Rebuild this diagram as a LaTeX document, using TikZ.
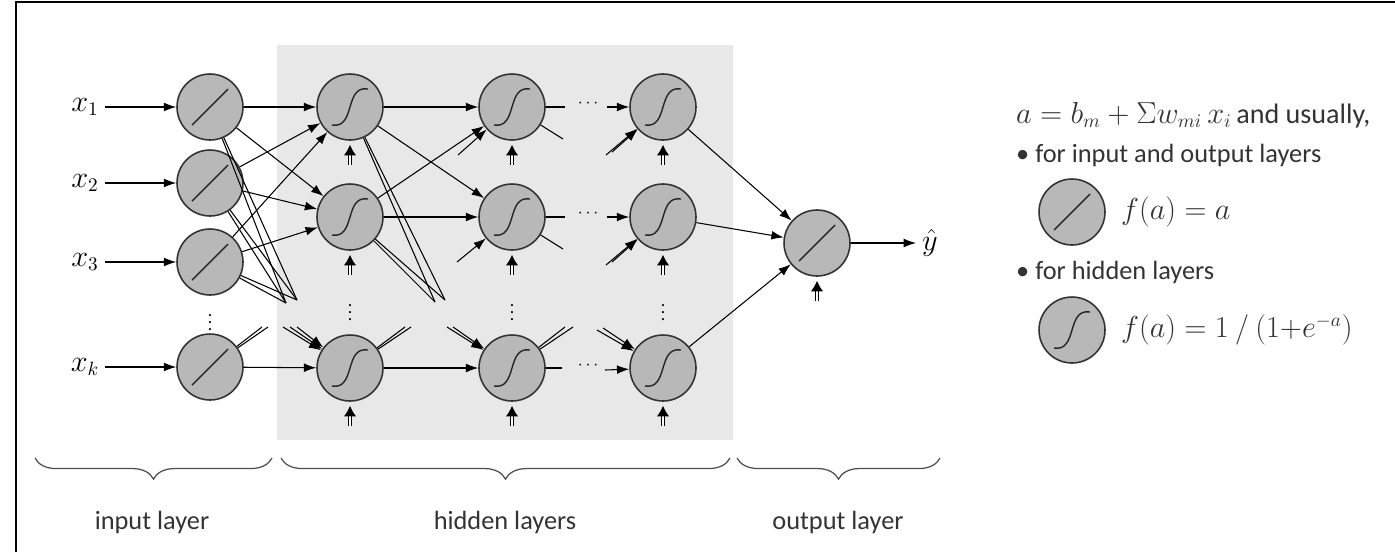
\documentclass[tikz,border=0pt]{standalone}
\usepackage{fontspec}
\setmainfont{Carlito}
\usetikzlibrary{arrows.meta,decorations.pathreplacing}
\begin{document}
\begin{tikzpicture}[x=0.02cm,y=-0.02cm,
  neuron/.style={circle,draw=black!80,fill=black!28,line width=0.9pt,minimum size=1.32cm,inner sep=0pt},
  edge/.style={line width=0.6pt,-{Latex[length=7pt,width=5pt]}},
  stub/.style={line width=0.6pt},
  bias/.style={line width=0.5pt,double,double distance=1.6pt},
  biastip/.style={-{Latex[length=6pt,width=7pt]},line width=0.6pt},
  glyph/.style={line width=0.8pt,black!85},
  brace/.style={decorate,decoration={brace,mirror,amplitude=12pt},line width=0.7pt,black!70},
  lbl/.style={font=\fontsize{15}{17}\selectfont,text=black!80}]
\useasboundingbox (0,0) rectangle (1395,552);
\draw[line width=1pt] (16,552) -- (16,2) -- (1395,2);
\fill[black!9] (277,45) rectangle (733,440);
\newcommand{\lin}[1]{\draw[glyph] ([shift={(-18,18)}]#1.center) -- ([shift={(18,-18)}]#1.center);}
\newcommand{\sig}[1]{\draw[glyph] ([shift={(-18,18)}]#1.center) .. controls ([shift={(6,22)}]#1.center) and ([shift={(-6,-22)}]#1.center) .. ([shift={(18,-18)}]#1.center);}
\newcommand{\biasarrow}[2]{\draw[bias] (#1) -- ([shift={(0,10)}]#2.south); \draw[biastip] ([shift={(0,12)}]#2.south) -- ([shift={(0,4)}]#2.south);}
% input layer
\foreach \n/\y in {1/107,2/183,3/262,k/367}{
  \node[neuron] (I\n) at (210,\y) {};
  \node[font=\fontsize{16}{18}\selectfont] (X\n) at (85,\y) {$x_{\n}$};
  \draw[edge] (X\n) -- (I\n);
  \lin{I\n}
}
\node (Id) at (210,317) {$\vdots$};
% hidden layers
\foreach \c/\x in {1/350,2/512,3/663}{
  \foreach \r/\y in {1/107,2/217,k/368}{
    \node[neuron] (H\c\r) at (\x,\y) {};
    \sig{H\c\r}
    \coordinate (B\c\r) at (\x,\y+58);
    \biasarrow{B\c\r}{H\c\r}
  }
  \node (Hd\c) at (\x,307) {$\vdots$};
}
% output
\node[neuron] (O) at (817,243) {};
\lin{O}
\coordinate (BO) at (817,301);
\biasarrow{BO}{O}
\node[font=\fontsize{16}{18}\selectfont] (Y) at (930,243) {$\hat{y}$};
\draw[edge] (O) -- (Y);
% input -> hidden1
\foreach \i in {1,2,3}{\foreach \h in {1,2}{\draw[edge] (I\i) -- (H1\h);}}
\draw[edge] (Ik) -- (H1k);
\coordinate (s1) at (286,303); \coordinate (s2) at (297,300);
\foreach \i in {1,2,3}{\draw[stub] (I\i) -- (s1); \draw[stub] (I\i) -- (s2);}
\coordinate (u1) at (262,327); \coordinate (u2) at (268,327);
\draw[stub] (Ik) -- (u1); \draw[stub] (Ik) -- (u2);
\foreach \p/\q in {a/283,b/290,c/297}{\coordinate (v\p) at (\q,327); \draw[edge] (v\p) -- (H1k);}
% hidden1 -> hidden2
\foreach \i in {1,2}{\foreach \h in {1,2}{\draw[edge] (H1\i) -- (H2\h);}}
\draw[edge] (H1k) -- (H2k);
\coordinate (t1) at (435,302); \coordinate (t2) at (445,300);
\foreach \i in {1,2}{\draw[stub] (H1\i) -- (t1); \draw[stub] (H1\i) -- (t2);}
\coordinate (w1) at (405,327); \coordinate (w2) at (411,327);
\draw[stub] (H1k) -- (w1); \draw[stub] (H1k) -- (w2);
\coordinate (z1) at (458,155); \draw[edge] (z1) -- (H21);
\coordinate (z2) at (457,262); \draw[edge] (z2) -- (H22);
\coordinate (za) at (447,327); \coordinate (zb) at (453,327);
\draw[edge] (za) -- (H2k); \draw[edge] (zb) -- (H2k);
% hidden2 -> ... -> hidden3
\foreach \r/\y in {1/107,2/217}{
  \coordinate (h\r) at (565,\y); \coordinate (d\r) at (563,\y+32);
  \draw[stub] (H2\r) -- (h\r); \draw[stub] (H2\r) -- (d\r);
  \node (dots\r) at (588,\y-3) {$\cdots$};
  \coordinate (g\r) at (607,\y); \draw[edge] (g\r) -- (H3\r);
  \coordinate (e\r) at (606,\y+48); \coordinate (f\r) at (612,\y+45);
  \draw[edge] (e\r) -- (H3\r); \draw[edge] (f\r) -- (H3\r);
}
\coordinate (hk) at (562,368); \draw[stub] (H2k) -- (hk);
\coordinate (pk1) at (565,327); \coordinate (pk2) at (573,327);
\draw[stub] (H2k) -- (pk1); \draw[stub] (H2k) -- (pk2);
\node (dotsk) at (588,366) {$\cdots$};
\coordinate (gk) at (605,370); \draw[edge] (gk) -- (H3k);
\coordinate (qk1) at (597,330); \coordinate (qk2) at (603,328);
\draw[edge] (qk1) -- (H3k); \draw[edge] (qk2) -- (H3k);
% hidden3 -> output
\foreach \r in {1,2,k}{\draw[edge] (H3\r) -- (O);}
% braces
\draw[brace] (35,458) -- (272,458) coordinate[pos=0.5] (bi);
\draw[brace] (281,458) -- (730,458) coordinate[pos=0.5] (bh);
\draw[brace] (737,458) -- (940,458) coordinate[pos=0.5] (bo);
\node[lbl] (Li) at (152,522) {input layer};
\node[lbl] (Lh) at (505,522) {hidden layers};
\node[lbl] (Lo) at (838,522) {output layer};
% legend
\node[lbl,anchor=west] (T1) at (1010,115) {\fontsize{16}{18}\selectfont$a=b_m+\Sigma w_{mi}\,x_i$\,and usually,};
\node[lbl,anchor=west] (T2) at (1010,155) {• for input and output layers};
\node[neuron] (LA) at (1072,212) {}; \lin{LA}
\node[lbl,anchor=west] (F1) at (1115,212) {\fontsize{16}{18}\selectfont$f(a)=a$};
\node[lbl,anchor=west] (T3) at (1010,272) {• for hidden layers};
\node[neuron] (LB) at (1072,330) {}; \sig{LB}
\node[lbl,anchor=west] (F2) at (1115,330) {\fontsize{16}{18}\selectfont$f(a)=1\ /\ (1{+}e^{-a})$};
\end{tikzpicture}
\end{document}
